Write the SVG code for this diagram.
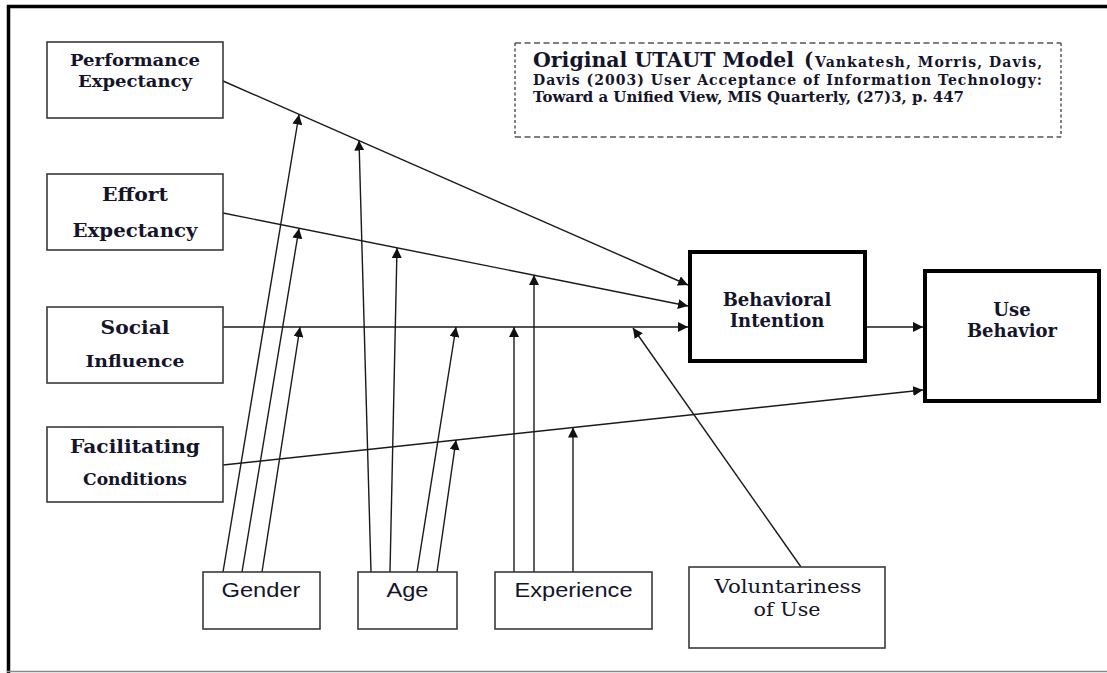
<svg xmlns="http://www.w3.org/2000/svg" width="1107" height="673" viewBox="0 0 1107 673">
  <defs>
    <marker id="ah" viewBox="0 0 10 10" refX="10" refY="5" markerWidth="10" markerHeight="10" markerUnits="userSpaceOnUse" orient="auto">
      <path d="M0,0 L10,5 L0,10 z" fill="#111"/>
    </marker>
    <style>
      .box { fill: #fff; stroke: #3a3a3a; stroke-width: 1.6; }
      .bold-box { fill: #fff; stroke: #000; stroke-width: 4; }
      .lbl { font-family: "DejaVu Serif", "Liberation Serif", serif; font-weight: bold; fill: #14142a; text-anchor: middle; }
      .mod { font-family: "Liberation Sans", Arial, sans-serif; font-size: 19.5px; fill: #14142a; text-anchor: middle; }
      .vol { font-family: "DejaVu Serif", "Liberation Serif", serif; font-size: 19px; fill: #14142a; text-anchor: middle; }
      .cite { font-family: "DejaVu Serif", "Liberation Serif", serif; font-weight: bold; fill: #14142a; }
      .conn line { stroke: #1a1a1a; stroke-width: 1.4; fill: none; }
      .arr { marker-end: url(#ah); }
    </style>
  </defs>

  <rect width="1107" height="673" fill="#fff"/>

  <!-- page frame -->
  <g id="frame">
    <line x1="7" y1="6.5" x2="1107" y2="6.5" stroke="#000" stroke-width="3.5"/>
    <line x1="8.5" y1="5" x2="8.5" y2="673" stroke="#000" stroke-width="3.5"/>
    <line x1="7" y1="671.5" x2="1107" y2="671.5" stroke="#8a8a8a" stroke-width="1.5"/>
  </g>

  <!-- citation note -->
  <g id="note">
    <line x1="515" y1="43" x2="1061" y2="43" stroke="#555" stroke-width="1.5" stroke-dasharray="6 3.5"/>
    <line x1="515" y1="137" x2="1061" y2="137" stroke="#555" stroke-width="1.5" stroke-dasharray="6 3.5"/>
    <line x1="515" y1="43" x2="515" y2="137" stroke="#555" stroke-width="1.5" stroke-dasharray="3 2.5"/>
    <line x1="1061" y1="43" x2="1061" y2="137" stroke="#555" stroke-width="1.5" stroke-dasharray="3 2.5"/>
    <text class="cite" x="533" y="67" font-size="19.5" textLength="261" lengthAdjust="spacingAndGlyphs">Original  UTAUT  Model</text>
    <text class="cite" x="804" y="67" font-size="19.5">(</text>
    <text class="cite" x="815" y="67" font-size="14" textLength="227" lengthAdjust="spacing">Vankatesh, Morris, Davis,</text>
    <text class="cite" x="533" y="85" font-size="14" textLength="509" lengthAdjust="spacing">Davis (2003) User Acceptance of Information Technology:</text>
    <text class="cite" x="533" y="102" font-size="14" textLength="431" lengthAdjust="spacingAndGlyphs">Toward a Unified View, MIS Quarterly, (27)3, p. 447</text>
  </g>

  <!-- connectors -->
  <g id="connectors" class="conn">
    <!-- determinants to intention / use -->
    <line class="arr" x1="223" y1="81" x2="688" y2="285"/>
    <line class="arr" x1="223" y1="213" x2="688" y2="306"/>
    <line class="arr" x1="223" y1="327" x2="688" y2="327"/>
    <line class="arr" x1="867" y1="327" x2="923" y2="327"/>
    <line class="arr" x1="223" y1="465" x2="923" y2="390"/>
    <!-- gender -->
    <line class="arr" x1="223" y1="572" x2="299" y2="114.5"/>
    <line class="arr" x1="242" y1="572" x2="299" y2="228.5"/>
    <line class="arr" x1="262" y1="572" x2="300" y2="327"/>
    <!-- age -->
    <line class="arr" x1="371" y1="572" x2="359" y2="140.5"/>
    <line class="arr" x1="390" y1="572" x2="397" y2="248"/>
    <line class="arr" x1="417" y1="572" x2="456" y2="327"/>
    <line class="arr" x1="437" y1="572" x2="456" y2="440"/>
    <!-- experience -->
    <line class="arr" x1="514" y1="572" x2="514" y2="327"/>
    <line class="arr" x1="534" y1="572" x2="534" y2="275"/>
    <line class="arr" x1="573" y1="572" x2="573" y2="427.5"/>
    <!-- voluntariness -->
    <line class="arr" x1="801" y1="567" x2="633" y2="328"/>
  </g>

  <g id="performance-expectancy">
    <rect class="box" x="47" y="42" width="176" height="76"/>
    <text class="lbl" x="135" y="66" font-size="17" textLength="130" lengthAdjust="spacingAndGlyphs">Performance</text>
    <text class="lbl" x="135" y="87" font-size="17" textLength="114" lengthAdjust="spacingAndGlyphs">Expectancy</text>
  </g>

  <g id="effort-expectancy">
    <rect class="box" x="47" y="174" width="176" height="76"/>
    <text class="lbl" x="135" y="201" font-size="19" textLength="66" lengthAdjust="spacingAndGlyphs">Effort</text>
    <text class="lbl" x="135" y="237" font-size="19" textLength="125" lengthAdjust="spacingAndGlyphs">Expectancy</text>
  </g>

  <g id="social-influence">
    <rect class="box" x="47" y="307" width="176" height="76"/>
    <text class="lbl" x="135" y="334" font-size="19" textLength="69" lengthAdjust="spacingAndGlyphs">Social</text>
    <text class="lbl" x="135" y="367" font-size="16.5" textLength="99" lengthAdjust="spacingAndGlyphs">Influence</text>
  </g>

  <g id="facilitating-conditions">
    <rect class="box" x="47" y="427" width="176" height="75"/>
    <text class="lbl" x="135" y="453" font-size="18.5" textLength="130" lengthAdjust="spacingAndGlyphs">Facilitating</text>
    <text class="lbl" x="135" y="485" font-size="16" textLength="104" lengthAdjust="spacingAndGlyphs">Conditions</text>
  </g>

  <g id="behavioral-intention">
    <rect class="bold-box" x="690" y="252" width="175" height="109"/>
    <text class="lbl" x="777" y="306" font-size="18">Behavioral</text>
    <text class="lbl" x="777" y="327" font-size="18">Intention</text>
  </g>

  <g id="use-behavior">
    <rect class="bold-box" x="925" y="271" width="174" height="130"/>
    <text class="lbl" x="1012" y="316" font-size="18">Use</text>
    <text class="lbl" x="1012" y="337" font-size="18">Behavior</text>
  </g>

  <g id="gender">
    <rect class="box" x="203" y="572" width="117" height="57"/>
    <text class="mod" x="261" y="597" textLength="79" lengthAdjust="spacingAndGlyphs">Gender</text>
  </g>

  <g id="age">
    <rect class="box" x="358" y="572" width="99" height="57"/>
    <text class="mod" x="407.5" y="597" textLength="42" lengthAdjust="spacingAndGlyphs">Age</text>
  </g>

  <g id="experience">
    <rect class="box" x="495" y="572" width="157" height="57"/>
    <text class="mod" x="573.5" y="597" textLength="118" lengthAdjust="spacingAndGlyphs">Experience</text>
  </g>

  <g id="voluntariness">
    <rect class="box" x="689" y="567" width="196" height="81"/>
    <text class="vol" x="788" y="593" textLength="147" lengthAdjust="spacingAndGlyphs">Voluntariness</text>
    <text class="vol" x="787" y="616" textLength="67" lengthAdjust="spacingAndGlyphs">of Use</text>
  </g>
</svg>
